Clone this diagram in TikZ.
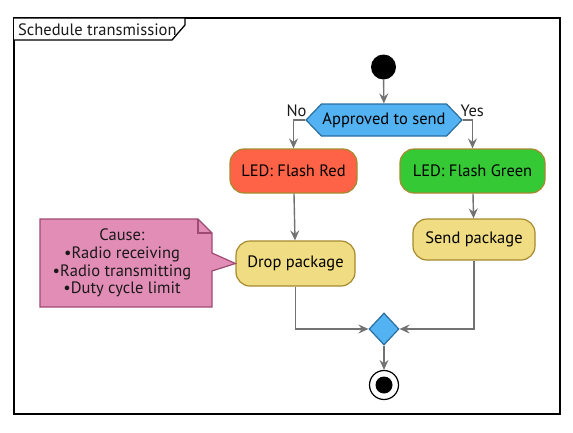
\documentclass[tikz,border=0pt]{standalone}
\usepackage{fontspec}
\setmainfont{PT Sans}
\usetikzlibrary{arrows.meta,shapes.geometric,shapes.symbols,positioning}
\definecolor{decfill}{HTML}{52B2F2}
\definecolor{decline}{HTML}{2A6E9E}
\definecolor{redfill}{HTML}{FF6347}
\definecolor{greenfill}{HTML}{36C936}
\definecolor{actfill}{HTML}{F0DC82}
\definecolor{actline}{HTML}{A68A2E}
\definecolor{notefill}{HTML}{E28DB6}
\definecolor{noteline}{HTML}{9E4A72}
\definecolor{flow}{HTML}{727272}
\tikzset{
  act/.style={draw=actline,line width=1.2pt,rounded corners=14pt,fill=actfill,
    minimum height=44pt,inner xsep=6pt,font=\fontsize{16.5}{18}\selectfont},
  flowline/.style={draw=flow,line width=1.4pt,-{Stealth[length=10pt,width=9pt,inset=3.5pt]}},
  lbl/.style={font=\fontsize{16.5}{18}\selectfont,text=black!90}
}
\begin{document}
\begin{tikzpicture}[x=1pt,y=-1pt]
		\useasboundingbox (0,0) rectangle (573,432);
		% frame and tab
		\draw[line width=1.6pt] (14,18) rectangle (560,414);
		\draw[line width=1.3pt,fill=white] (14,18)--(185,18)--(185,25)--(172,40)--(14,40);
		\node[lbl,anchor=west,inner sep=0] (title) at (18,29.5) {Schedule transmission};
		% nodes
		\node[circle,fill=black,minimum size=25pt,inner sep=0] (start) at (383.5,67) {};
		\node[signal,signal to=west and east,signal pointer angle=92,draw=decline,line width=1.2pt,
		  fill=decfill,minimum width=152pt,minimum height=32pt,inner xsep=1pt,inner ysep=0pt,
		  font=\fontsize{16.5}{18}\selectfont] (dec) at (384,120) {Approved to send};
		\node[act,fill=redfill,minimum width=127pt] (red) at (293.5,171) {LED: Flash Red};
		\node[act,fill=greenfill,minimum width=145pt,minimum height=44pt] (green) at (472.5,171) {LED: Flash Green};
		\node[act,minimum width=119pt,minimum height=45pt] (drop) at (295.5,263.5) {Drop package};
		\node[act,minimum width=122pt,minimum height=41pt] (send) at (474,239.5) {Send package};
		\node[diamond,draw=decline,line width=1.2pt,fill=decfill,minimum width=30pt,minimum height=32pt,inner sep=0] (merge) at (384,329) {};
		\node[circle,draw=black,line width=1.2pt,minimum size=29pt,inner sep=0] (stop) at (384,385) {};
		\fill (stop.center) circle (8.5);
		% note
		\draw[draw=noteline,fill=notefill,line width=1.2pt] (40,219)--(198,219)--(212,233)--(212,253)--(drop.west)--(212,271)--(212,307)--(40,307)--cycle;
		\draw[draw=noteline,line width=1.2pt] (198,219)--(198,233)--(212,233);
		\node[lbl,align=center,font=\fontsize{16.5}{17.7}\selectfont] (note) at (122,263) {Cause:\\ \textbullet Radio receiving\\ \textbullet Radio transmitting\\ \textbullet Duty cycle limit};
		% flows
		\draw[flowline] (start)--(dec);
		\draw[flowline] (dec.west)-|(red.north) node[lbl,pos=0.2,above left=-1pt and -10pt] {No};
		\draw[flowline] (dec.east)-|(green.north) node[lbl,pos=0.2,above right=-1pt and -10pt] {Yes};
		\draw[flowline] (red)--(drop);
		\draw[flowline] (green)--(send);
		\draw[flowline] (drop.south)|-(merge.west);
		\draw[flowline] (send.south)|-(merge.east);
		\draw[flowline] (merge)--(stop);
\end{tikzpicture}
\end{document}
